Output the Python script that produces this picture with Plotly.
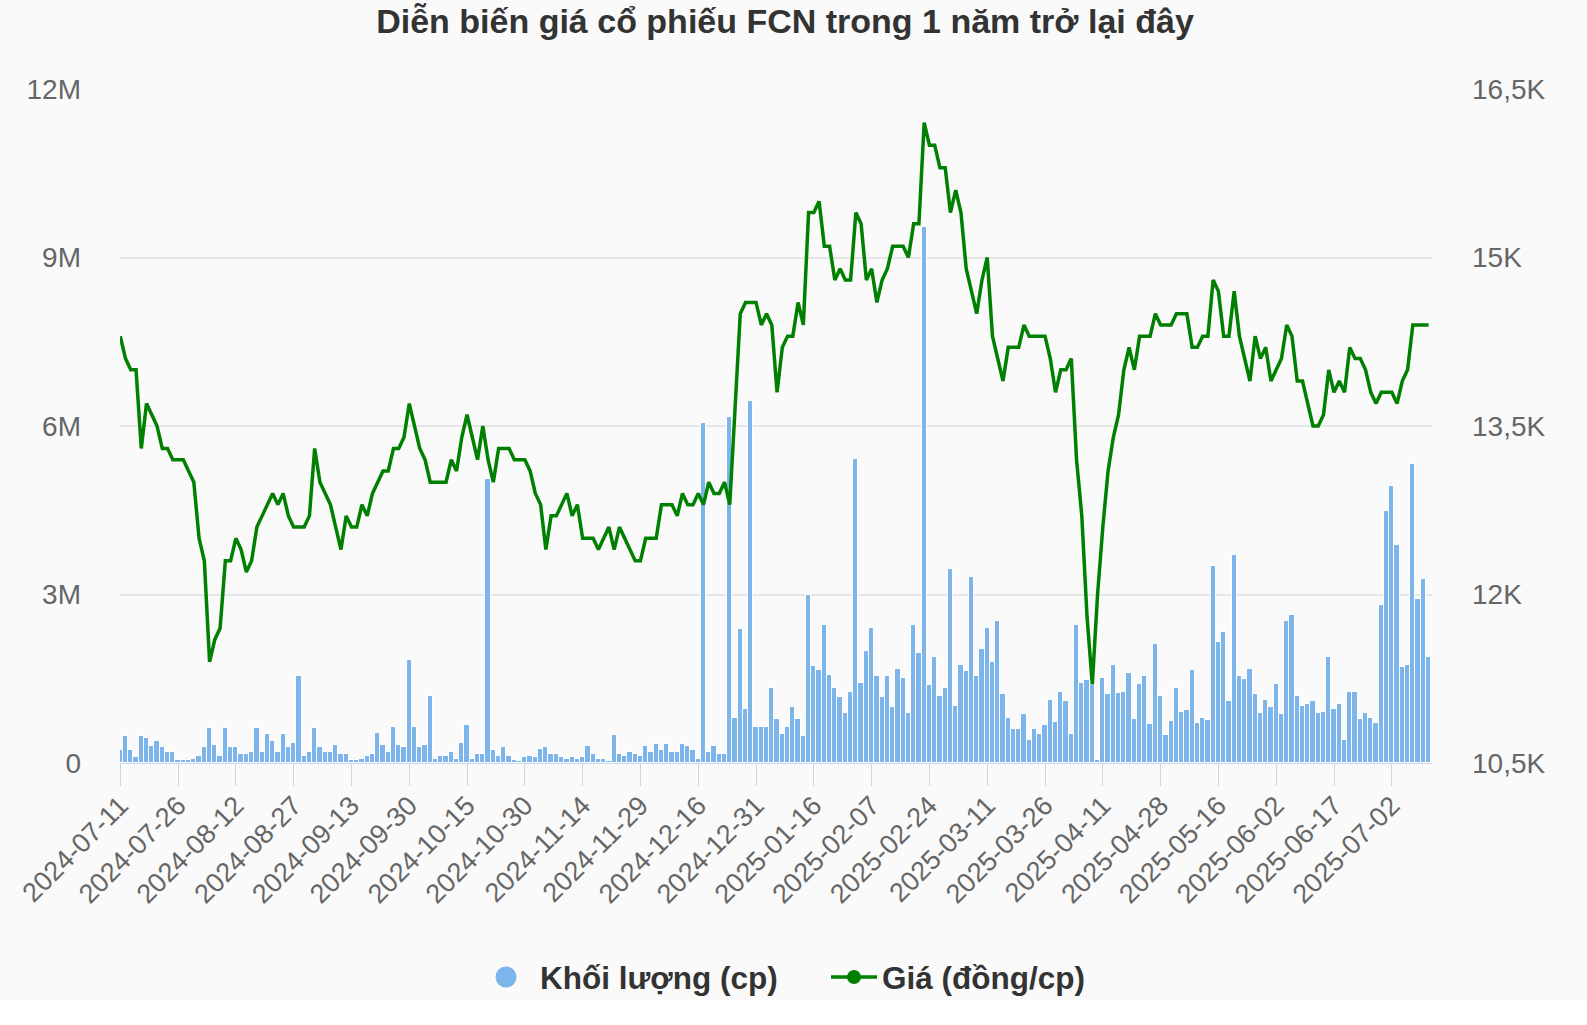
import pandas as pd
import plotly.graph_objects as go

# Trading calendar (HOSE holidays excluded)
holidays = ["2024-09-02", "2024-09-03", "2025-01-01", "2025-01-27", "2025-01-28",
            "2025-01-29", "2025-01-30", "2025-01-31", "2025-04-07", "2025-04-30",
            "2025-05-01", "2025-05-02"]
dates = pd.bdate_range("2024-07-11", "2025-07-11", freq="C",
                       holidays=holidays).strftime("%Y-%m-%d").tolist()

# Closing price (dong/share)
price = [
    14300, 14100, 14000, 14000, 13300, 13700, 13600, 13500, 13300, 13300,
    13200, 13200, 13200, 13100, 13000, 12500, 12300, 11400, 11600, 11700,
    12300, 12300, 12500, 12400, 12200, 12300, 12600, 12700, 12800, 12900,
    12800, 12900, 12700, 12600, 12600, 12600, 12700, 13300, 13000, 12900,
    12800, 12600, 12400, 12700, 12600, 12600, 12800, 12700, 12900, 13000,
    13100, 13100, 13300, 13300, 13400, 13700, 13500, 13300, 13200, 13000,
    13000, 13000, 13000, 13200, 13100, 13400, 13600, 13400, 13200, 13500,
    13200, 13000, 13300, 13300, 13300, 13200, 13200, 13200, 13100, 12900,
    12800, 12400, 12700, 12700, 12800, 12900, 12700, 12800, 12500, 12500,
    12500, 12400, 12500, 12600, 12400, 12600, 12500, 12400, 12300, 12300,
    12500, 12500, 12500, 12800, 12800, 12800, 12700, 12900, 12800, 12800,
    12900, 12800, 13000, 12900, 12900, 13000, 12800, 13700, 14500, 14600,
    14600, 14600, 14400, 14500, 14400, 13800, 14200, 14300, 14300, 14600,
    14400, 15400, 15400, 15500, 15100, 15100, 14800, 14900, 14800, 14800,
    15400, 15300, 14800, 14900, 14600, 14800, 14900, 15100, 15100, 15100,
    15000, 15300, 15300, 16200, 16000, 16000, 15800, 15800, 15400, 15600,
    15400, 14900, 14700, 14500, 14800, 15000, 14300, 14100, 13900, 14200,
    14200, 14200, 14400, 14300, 14300, 14300, 14300, 14100, 13800, 14000,
    14000, 14100, 13200, 12700, 11800, 11200, 12000, 12600, 13100, 13400,
    13600, 14000, 14200, 14000, 14300, 14300, 14300, 14500, 14400, 14400,
    14400, 14500, 14500, 14500, 14200, 14200, 14300, 14300, 14800, 14700,
    14300, 14300, 14700, 14300, 14100, 13900, 14300, 14100, 14200, 13900,
    14000, 14100, 14400, 14300, 13900, 13900, 13700, 13500, 13500, 13600,
    14000, 13800, 13900, 13800, 14200, 14100, 14100, 14000, 13800, 13700,
    13800, 13800, 13800, 13700, 13900, 14000, 14400, 14400, 14400, 14400,
]

# Volume (millions of shares)
volume_m = [
    0.24, 0.48, 0.24, 0.10, 0.48, 0.44, 0.30, 0.40, 0.28, 0.20,
    0.20, 0.05, 0.05, 0.06, 0.08, 0.12, 0.28, 0.62, 0.32, 0.12,
    0.62, 0.28, 0.28, 0.16, 0.16, 0.20, 0.62, 0.20, 0.52, 0.40,
    0.20, 0.52, 0.28, 0.36, 1.55, 0.12, 0.20, 0.62, 0.28, 0.20,
    0.20, 0.32, 0.16, 0.16, 0.06, 0.05, 0.08, 0.12, 0.16, 0.54,
    0.32, 0.20, 0.64, 0.32, 0.28, 1.84, 0.64, 0.28, 0.32, 1.19,
    0.08, 0.12, 0.12, 0.20, 0.08, 0.36, 0.68, 0.08, 0.16, 0.16,
    5.05, 0.24, 0.12, 0.28, 0.12, 0.05, 0.03, 0.10, 0.12, 0.10,
    0.25, 0.28, 0.16, 0.16, 0.10, 0.08, 0.10, 0.08, 0.10, 0.30,
    0.16, 0.08, 0.08, 0.04, 0.49, 0.16, 0.12, 0.20, 0.16, 0.12,
    0.30, 0.20, 0.34, 0.24, 0.34, 0.20, 0.20, 0.34, 0.30, 0.24,
    0.08, 6.05, 0.20, 0.30, 0.16, 0.16, 6.16, 0.80, 2.38, 0.97,
    6.44, 0.64, 0.64, 0.64, 1.34, 0.78, 0.52, 0.64, 0.99, 0.78,
    0.48, 3.00, 1.73, 1.65, 2.45, 1.57, 1.34, 1.18, 0.89, 1.27,
    5.42, 1.43, 1.99, 2.40, 1.55, 1.18, 1.55, 0.99, 1.68, 1.51,
    0.89, 2.45, 1.95, 9.55, 1.39, 1.89, 1.19, 1.34, 3.46, 1.02,
    1.75, 1.63, 3.32, 1.55, 2.03, 2.40, 1.79, 2.53, 1.23, 0.81,
    0.60, 0.60, 0.87, 0.41, 0.60, 0.52, 0.68, 1.13, 0.73, 1.27,
    1.10, 0.52, 2.45, 1.43, 1.47, 1.39, 0.05, 1.51, 1.23, 1.75,
    1.25, 1.27, 1.61, 0.79, 1.41, 1.55, 0.70, 2.11, 1.19, 0.49,
    0.75, 1.34, 0.91, 0.95, 1.65, 0.72, 0.80, 0.76, 3.51, 2.16,
    2.34, 1.11, 3.70, 1.55, 1.49, 1.68, 1.23, 0.89, 1.13, 0.99,
    1.41, 0.87, 2.53, 2.64, 1.19, 1.02, 1.05, 1.10, 0.89, 0.91,
    1.89, 0.97, 1.05, 0.41, 1.27, 1.27, 0.78, 0.89, 0.81, 0.72,
    2.82, 4.49, 4.94, 3.88, 1.71, 1.75, 5.32, 2.92, 3.27, 1.89,
]
volume = [v * 1_000_000 for v in volume_m]

tick_dates = dates[::11]
left_tickvals = [0, 3_000_000, 6_000_000, 9_000_000, 12_000_000]
left_ticktext = ["0", "3M", "6M", "9M", "12M"]
right_tickvals = [10500, 12000, 13500, 15000, 16500]
right_ticktext = ["10,5K", "12K", "13,5K", "15K", "16,5K"]

TITLE = "Diễn biến giá cổ phiếu FCN trong 1 năm trở lại đây"
NAME_VOL = "Khối lượng (cp)"
NAME_PRICE = "Giá (đồng/cp)"

FONT = "Liberation Sans, Arial, Helvetica, sans-serif"
BAR_COLOR = "#7cb5ec"
LINE_COLOR = "#008000"
BG = "#fafafa"

W, H = 1587, 1025
PLOT_L, PLOT_R, PLOT_T, PLOT_B = 120, 1432, 89, 763   # page pixels
PW = PLOT_R - PLOT_L
PH = PLOT_B - PLOT_T


def px_x(page_x):
    return (page_x - PLOT_L) / PW


def px_y(page_y):
    return (PLOT_B - page_y) / PH


fig = go.Figure()
fig.add_trace(go.Bar(
    x=dates, y=volume, name=NAME_VOL, showlegend=False,
    marker=dict(color=BAR_COLOR, line=dict(color="#ffffff", width=1)),
    yaxis="y",
))
fig.add_trace(go.Scatter(
    x=dates, y=price, name=NAME_PRICE, showlegend=False, mode="lines",
    line=dict(color=LINE_COLOR, width=3.5), yaxis="y2",
))
# legend entries
fig.add_trace(go.Scatter(
    x=[None], y=[None], name=NAME_VOL, mode="markers", legend="legend",
    marker=dict(color=BAR_COLOR, size=30, symbol="circle",
                line=dict(color=BAR_COLOR, width=5)), yaxis="y",
))
fig.add_trace(go.Scatter(
    x=[None], y=[None], name=NAME_PRICE, mode="lines+markers", legend="legend2",
    line=dict(color=LINE_COLOR, width=3.5),
    marker=dict(color=LINE_COLOR, size=14, symbol="circle"), yaxis="y2",
))

legend_font = dict(family=FONT, size=31.5, color="#333333", weight="bold")

fig.update_layout(
    width=W, height=H,
    margin=dict(l=PLOT_L, r=W - PLOT_R, t=PLOT_T, b=H - PLOT_B),
    paper_bgcolor=BG, plot_bgcolor=BG,
    bargap=0,
    font=dict(family=FONT, color="#666666", size=28),
    title=dict(text=TITLE, x=785 / W, xref="container", xanchor="center",
               y=1 - 21.5 / H, yref="container", yanchor="middle",
               font=dict(family=FONT, size=34, color="#333333", weight="bold")),
    xaxis=dict(
        type="category", range=[-0.05, 249.65],
        tickmode="array", tickvals=tick_dates, ticktext=tick_dates,
        tickangle=-45, ticks="outside", ticklen=22, tickcolor="#ccd6eb",
        tickwidth=1, showline=True, linecolor="#ccd6eb", linewidth=1,
        showgrid=False, ticklabelstandoff=-7,
        tickfont=dict(size=27, color="#666666"),
    ),
    yaxis=dict(
        range=[0, 12_000_000], tickmode="array", tickvals=left_tickvals,
        ticktext=left_ticktext, showgrid=True, gridcolor="#e6e6e6",
        gridwidth=1.5, zeroline=False, showline=False,
        ticklabelstandoff=38, tickfont=dict(size=28, color="#666666"),
    ),
    yaxis2=dict(
        range=[10500, 16500], tickmode="array", tickvals=right_tickvals,
        ticktext=right_ticktext, overlaying="y", side="right",
        showgrid=False, zeroline=False, showline=False,
        ticklabelstandoff=39, tickfont=dict(size=28, color="#666666"),
    ),
    legend=dict(
        orientation="h", x=px_x(472), xanchor="left", y=px_y(977), yanchor="middle",
        font=legend_font, bgcolor="rgba(0,0,0,0)", itemwidth=58,
    ),
    legend2=dict(
        orientation="h", x=px_x(826), xanchor="left", y=px_y(977), yanchor="middle",
        font=legend_font, bgcolor="rgba(0,0,0,0)", itemwidth=46,
    ),
    shapes=[dict(type="rect", xref="paper", yref="paper",
                 x0=-0.2, x1=1.3, y0=-0.5, y1=px_y(1000),
                 fillcolor="#ffffff", line=dict(width=0), layer="below")],
)

fig.write_html(
    "out.html",
    config={"displayModeBar": False},
    post_script="document.body.style.margin='0';"
                "document.body.style.backgroundColor='#fafafa';",
)
